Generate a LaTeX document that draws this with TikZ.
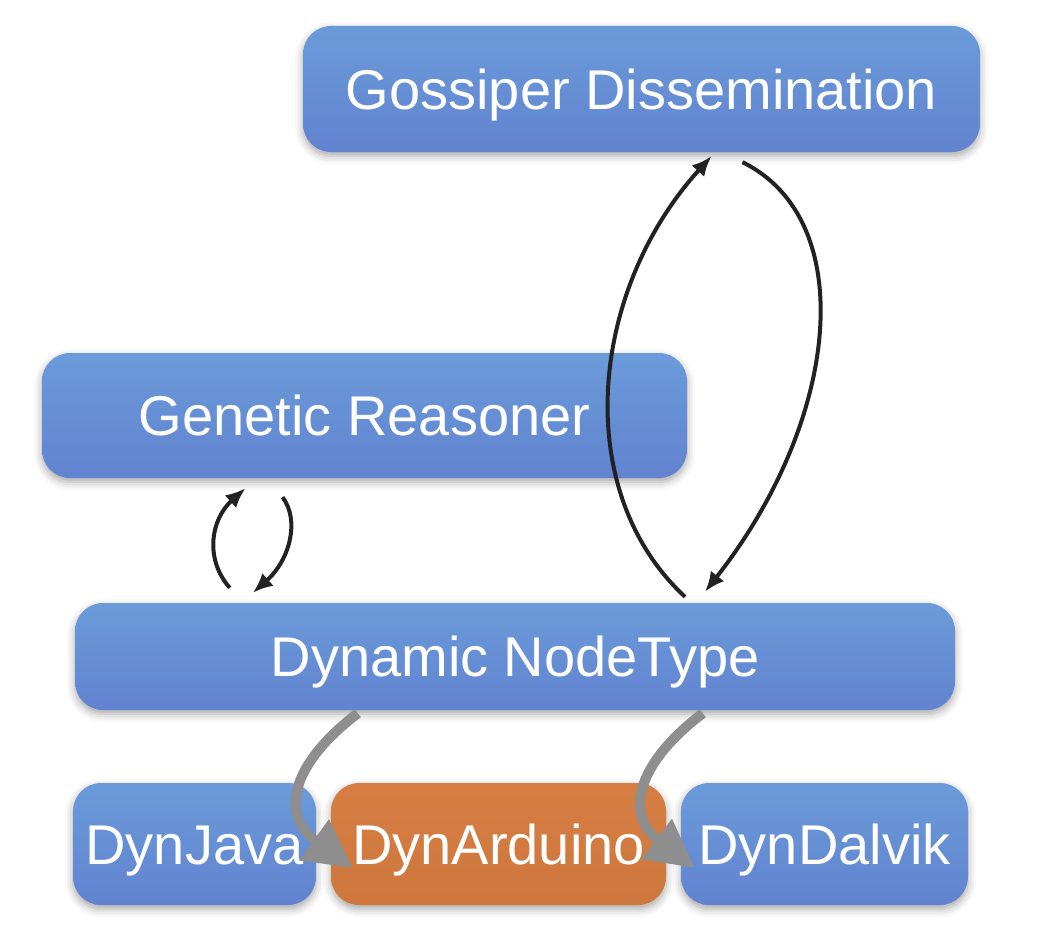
\documentclass[tikz,border=0pt]{standalone}
\usepackage{fontspec}
\setmainfont{Liberation Sans}
\usetikzlibrary{arrows.meta,shadows.blur}

\definecolor{boxtop}{HTML}{6A9BD9}
\definecolor{boxbot}{HTML}{6283D0}
\definecolor{ardtop}{HTML}{D67D42}
\definecolor{ardbot}{HTML}{CE783D}
\definecolor{linkgray}{HTML}{8E8E8E}
\definecolor{linkblack}{HTML}{222222}

\tikzset{
  modbox/.style={rounded corners=28pt, top color=boxtop, bottom color=boxbot,
    text=white, font=\fontsize{56}{60}\selectfont, inner sep=0pt,
    text height=40pt, text depth=0pt,
    blur shadow={shadow xshift=0pt, shadow yshift=-4pt, shadow blur radius=8pt, shadow opacity=35}},
  ardbox/.style={modbox, top color=ardtop, bottom color=ardbot},
  msg/.style={linkblack, line width=4pt, -{Latex[length=20pt,width=17pt]}},
  impl/.style={linkgray, line width=10pt, -{Triangle[length=48pt,width=48pt]}}
}

\begin{document}
\begin{tikzpicture}[x=1pt,y=-1pt]
\useasboundingbox (0,0) rectangle (1038,942);

\node[modbox, minimum width=677pt, minimum height=126pt] (gossip) at (641.5,89) {Gossiper Dissemination};
\node[modbox, minimum width=645pt, minimum height=125pt] (genetic) at (364.5,415.5) {Genetic Reasoner};
\node[modbox, minimum width=880pt, minimum height=107pt] (dnt) at (515,656.5) {Dynamic NodeType};

\node[modbox, minimum width=243pt, minimum height=122pt] (java) at (194.5,844) {DynJava};
\node[ardbox, minimum width=335pt, minimum height=122pt] (arduino) at (498.5,844) {DynArduino};
\node[modbox, minimum width=287pt, minimum height=122pt] (dalvik) at (824.5,844) {DynDalvik};

% gossip loop
\coordinate (g1) at ([xshift=170pt,yshift=6pt]dnt.north);
\coordinate (g2) at ([xshift=70pt,yshift=-4pt]gossip.south);
\coordinate (g3) at ([xshift=101pt,yshift=-10pt]gossip.south);
\coordinate (g4) at ([xshift=190pt,yshift=11pt]dnt.north);
\draw[msg] (g1) .. controls (570,490) and (590,290) .. (g2);
\draw[msg] (g3) .. controls (860,220) and (840,420) .. (g4);

% genetic loop
\coordinate (r1) at ([xshift=155pt,yshift=15pt]dnt.north west);
\coordinate (r2) at ([xshift=-119pt,yshift=-10pt]genetic.south);
\coordinate (r3) at ([xshift=-82pt,yshift=-19pt]genetic.south);
\coordinate (r4) at ([xshift=178pt,yshift=10pt]dnt.north west);
\draw[msg] (r1) .. controls (205,560) and (210,520) .. (r2);
\draw[msg] (r3) .. controls (300,520) and (290,560) .. (r4);

% implementations
\coordinate (d1) at ([xshift=283pt,yshift=-3pt]dnt.south west);
\coordinate (d2) at ([xshift=628pt,yshift=-3pt]dnt.south west);
\draw[impl] (d1) .. controls (290,765) and (280,815) .. ([xshift=22pt,yshift=-24pt]arduino.west);
\draw[impl] (d2) .. controls (635,765) and (625,815) .. ([xshift=14pt,yshift=-24pt]dalvik.west);
\end{tikzpicture}
\end{document}
